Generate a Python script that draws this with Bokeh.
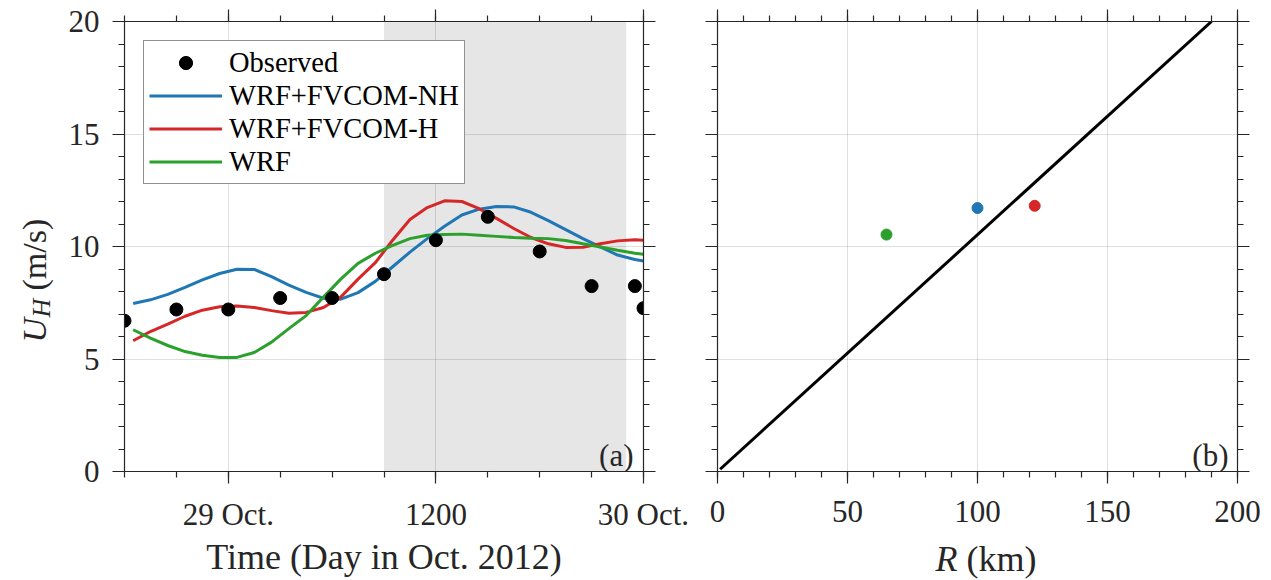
from math import pi
from bokeh.plotting import figure
from bokeh.layouts import row, column
from bokeh.models import (LinearAxis, FixedTicker, BoxAnnotation, Label,
                          Legend, LegendItem, Range1d)
from bokeh.core.properties import value
from bokeh.embed import file_html
from bokeh.resources import INLINE

# ---------------- data ----------------
# hours relative to 29 Oct 2012 00:00
model_hours = [-5.5, -4.5, -3.5, -2.5, -1.5, -0.5, 0.5, 1.5, 2.5, 3.5,
               4.5, 5.5, 6.5, 7.5, 8.5, 9.5, 10.5, 11.5, 12.5, 13.5,
               14.5, 15.5, 16.5, 17.5, 18.5, 19.5, 20.5, 21.5, 22.5, 23.5, 24.0]
speed_nh = [7.47, 7.63, 7.87, 8.18, 8.52, 8.80, 8.99, 8.98, 8.66, 8.28,
            7.96, 7.70, 7.66, 7.95, 8.45, 9.10, 9.75, 10.35, 10.90, 11.40,
            11.66, 11.78, 11.76, 11.52, 11.15, 10.75, 10.35, 9.98, 9.62, 9.42, 9.36]
speed_h = [5.81, 6.22, 6.55, 6.90, 7.17, 7.32, 7.36, 7.29, 7.15, 7.03,
           7.07, 7.29, 7.75, 8.55, 9.28, 10.28, 11.20, 11.73, 12.03, 12.00,
           11.68, 11.25, 10.80, 10.40, 10.12, 9.96, 9.97, 10.12, 10.25, 10.30, 10.28]
speed_wrf = [6.30, 5.93, 5.60, 5.33, 5.17, 5.07, 5.07, 5.29, 5.75, 6.35,
             6.93, 7.75, 8.55, 9.25, 9.70, 10.05, 10.35, 10.50, 10.53, 10.55,
             10.50, 10.45, 10.40, 10.37, 10.35, 10.27, 10.12, 9.98, 9.83, 9.70, 9.66]
obs_hours = [-6, -3, 0, 3, 6, 9, 12, 15, 18, 21, 23.5, 24]
obs_speed = [6.70, 7.20, 7.20, 7.71, 7.71, 8.77, 10.28, 11.32, 9.78, 8.24, 8.24, 7.26]
shade_start, shade_end = 9, 23
time_ticks = [0, 12, 24]
time_tick_labels = ["29 Oct.", "1200", "30 Oct."]
time_minor = [-6, -3, 0, 3, 6, 9, 12, 15, 18, 21, 24]

series_names = ["WRF+FVCOM-NH", "WRF+FVCOM-H", "WRF"]
series_colors = ["#1f77b4", "#d62728", "#2ca02c"]

R_km = [100, 122, 65]
R_speed = [11.71, 11.81, 10.53]
line_R = [1, 190]
line_U = [0.1, 20.0]

y_ticks = [0, 5, 10, 15, 20]
y_minor = list(range(0, 21))
r_ticks = [0, 50, 100, 150, 200]
r_minor = list(range(0, 201, 10))

# ---------------- style ----------------
FONT = "Liberation Serif"
INK = "#262626"


def style_axis(ax, major, minor, labels=True, overrides=None):
    ax.ticker = FixedTicker(ticks=major, minor_ticks=minor)
    ax.axis_line_color = INK
    ax.axis_line_width = 1.2
    ax.major_tick_line_color = INK
    ax.minor_tick_line_color = INK
    ax.major_tick_line_width = 1.2
    ax.minor_tick_line_width = 1.2
    ax.major_tick_in = 0
    ax.minor_tick_in = 0
    ax.major_tick_out = 12
    ax.minor_tick_out = 6
    ax.major_label_text_font = FONT
    ax.major_label_text_color = INK
    if labels:
        ax.major_label_text_font_size = "31px"
        if overrides:
            ax.major_label_overrides = overrides
    else:
        ax.major_label_text_font_size = "1px"
        ax.major_label_standoff = 0
        ax.major_label_overrides = {t: "" for t in major}


def make_fig(xr, b_left, frame_w, b_right, b_bottom):
    p = figure(frame_width=frame_w, frame_height=450,
               min_border_left=b_left, min_border_right=b_right,
               min_border_top=21, min_border_bottom=b_bottom,
               x_range=xr, y_range=Range1d(0, 20),
               output_backend="svg", toolbar_location=None)
    p.outline_line_color = None
    p.background_fill_color = "white"
    p.border_fill_color = "white"
    p.xgrid.grid_line_color = INK
    p.ygrid.grid_line_color = INK
    p.xgrid.grid_line_alpha = 0.15
    p.ygrid.grid_line_alpha = 0.15
    p.ygrid.ticker = FixedTicker(ticks=y_ticks)
    return p


def text_fig(w, h):
    # a bare strip whose data coordinates are pixels inside its frame
    f = figure(frame_width=w, frame_height=h, x_range=Range1d(0, w), y_range=Range1d(0, h),
               min_border=0, x_axis_location=None, y_axis_location=None,
               title=None, output_backend="svg", toolbar_location=None)
    f.grid.visible = False
    f.outline_line_color = None
    return f


# ---------------- panel (a) ----------------
p1 = make_fig(Range1d(-6, 24), 64, 519, 52, 109)
p1.xgrid.ticker = FixedTicker(ticks=time_ticks)

p1.add_layout(BoxAnnotation(left=shade_start, right=shade_end, fill_color="#e6e6e6",
                            fill_alpha=1.0, line_color=None, level="image"))

r_nh = p1.line(model_hours, speed_nh, line_color=series_colors[0], line_width=3)
r_h = p1.line(model_hours, speed_h, line_color=series_colors[1], line_width=3)
r_w = p1.line(model_hours, speed_wrf, line_color=series_colors[2], line_width=3)
r_obs = p1.scatter(obs_hours, obs_speed, size=13, fill_color="black", line_color="black")

style_axis(p1.xaxis[0], time_ticks, time_minor,
           overrides={t: l for t, l in zip(time_ticks, time_tick_labels)})
p1.xaxis[0].major_label_standoff = 13
p1.xaxis[0].axis_label = "Time (Day in Oct. 2012)"
p1.xaxis[0].axis_label_text_font = FONT
p1.xaxis[0].axis_label_text_font_size = "36px"
p1.xaxis[0].axis_label_text_font_style = "normal"
p1.xaxis[0].axis_label_text_color = INK
p1.xaxis[0].axis_label_standoff = 2
style_axis(p1.yaxis[0], y_ticks, y_minor)
p1.yaxis[0].major_label_standoff = 13

top1 = LinearAxis()
style_axis(top1, time_ticks, time_minor, labels=False)
p1.add_layout(top1, "above")
right1 = LinearAxis()
style_axis(right1, y_ticks, y_minor, labels=False)
p1.add_layout(right1, "right")

legend = Legend(items=[
    LegendItem(label="Observed", renderers=[r_obs]),
    LegendItem(label=series_names[0], renderers=[r_nh]),
    LegendItem(label=series_names[1], renderers=[r_h]),
    LegendItem(label=series_names[2], renderers=[r_w]),
], location="top_left", margin=19, padding=5, spacing=0, glyph_width=73,
    glyph_height=33, label_height=33, label_standoff=7, label_text_font=FONT,
    label_text_font_size="28.5px", label_text_color="black",
    border_line_color=INK, border_line_width=1, background_fill_alpha=1.0)
p1.add_layout(legend, "center")

p1.add_layout(Label(x=509, y=16, x_units="screen", y_units="screen", text="(a)",
                    text_align="right", text_baseline="alphabetic",
                    text_font=FONT, text_font_size="31px", text_color=INK))

# y-axis label U_H (m/s): rotated pieces in a strip aligned with the frame of (a)
ylab = text_fig(60, 450)
ylab.text(x=[34], y=[129], text=["U"], angle=pi / 2, text_align="left",
          text_baseline="middle", text_font=value(FONT), text_font_size="34px",
          text_font_style="italic", text_color=INK)
ylab.text(x=[41], y=[154], text=["H"], angle=pi / 2, text_align="left",
          text_baseline="middle", text_font=value(FONT), text_font_size="26px",
          text_font_style="italic", text_color=INK)
ylab.text(x=[34], y=[181], text=["(m/s)"], angle=pi / 2, text_align="left",
          text_baseline="middle", text_font=value(FONT), text_font_size="34px",
          text_color=INK)

# ---------------- panel (b) ----------------
p2 = make_fig(Range1d(0, 200), 22, 520, 34, 66)
p2.xgrid.ticker = FixedTicker(ticks=r_ticks)

p2.line(line_R, line_U, line_color="black", line_width=3)
p2.scatter(R_km, R_speed, size=11, fill_color=series_colors, line_color=series_colors)

style_axis(p2.xaxis[0], r_ticks, r_minor)
p2.xaxis[0].major_label_standoff = 17
style_axis(p2.yaxis[0], y_ticks, y_minor, labels=False)
top2 = LinearAxis()
style_axis(top2, r_ticks, r_minor, labels=False)
p2.add_layout(top2, "above")
right2 = LinearAxis()
style_axis(right2, y_ticks, y_minor, labels=False)
p2.add_layout(right2, "right")

p2.add_layout(Label(x=511, y=16, x_units="screen", y_units="screen", text="(b)",
                    text_align="right", text_baseline="alphabetic",
                    text_font=FONT, text_font_size="31px", text_color=INK))

# x-axis label R (km) for panel (b), in a strip aligned with the frame of (b)
xlab = text_fig(520, 43)
xlab.text(x=[218], y=[21.5], text=["R"], text_align="left", text_baseline="middle",
          text_font=value(FONT), text_font_size="36px", text_font_style="italic",
          text_color=INK)
xlab.text(x=[249], y=[21.5], text=["(km)"], text_align="left", text_baseline="middle",
          text_font=value(FONT), text_font_size="36px", text_color=INK)

layout = row(ylab, p1, column(p2, xlab, spacing=0), spacing=0)
open("out.html", "w").write(file_html(layout, INLINE))
